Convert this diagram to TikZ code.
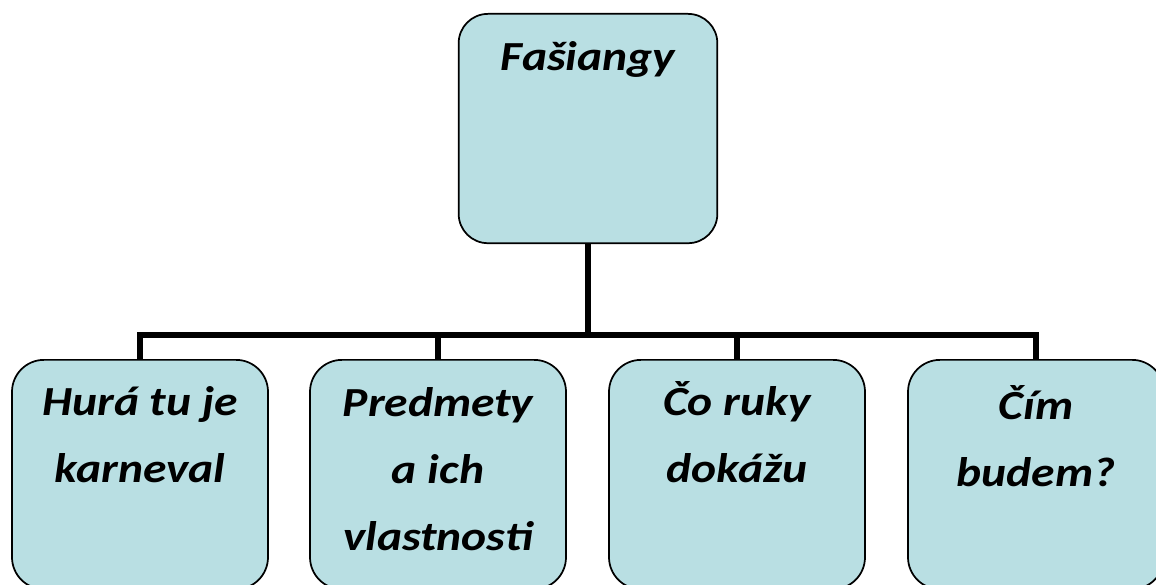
\documentclass[tikz,border=0pt]{standalone}
\usepackage{fontspec}
\setmainfont{Carlito}[FakeStretch=1.15]
\usetikzlibrary{positioning}
\definecolor{boxfill}{RGB}{185,223,227}

\begin{document}
\begin{tikzpicture}[x=0.75pt,y=0.75pt,yscale=-1,xscale=1,
	topic/.style={draw, line width=1.3pt, fill=boxfill, rounded corners=24pt, minimum width=192pt, minimum height=172pt, anchor=north, inner sep=0pt},
	caption/.style={anchor=base, align=center, inner sep=0pt, font=\fontsize{31}{50}\selectfont\bfseries\itshape},
	link/.style={line width=4.5pt}]
	\useasboundingbox (0,0) rectangle (1156,585);
	\clip (0,0) rectangle (1156,585);
	\node [topic, minimum width=194pt, rounded corners=22pt] (fasiangy) at (588,13) {};
	\node [topic] (hura) at (140,359) {};
	\node [topic] (predmety) at (438,359) {};
	\node [topic] (ruky) at (737,359) {};
	\node [topic] (budem) at (1036,359) {};
	\coordinate (bus) at (588,335);
	\draw [link] (fasiangy.south) -- (bus);
	\foreach \b in {hura,predmety,ruky,budem}
		\draw [link] (bus) -| (\b.north);
	\node [caption] (tfasiangy) at (588,70) {Fašiangy};
	\node [caption] (thura) at (140,482) {Hurá tu je\\karneval};
	\node [caption] (tpredmety) at (438,550) {Predmety\\a ich\\vlastnosti};
	\node [caption] (truky) at (737,482) {Čo ruky\\dokážu};
	\node [caption] (tbudem) at (1036,486) {Čím\\budem?};
\end{tikzpicture}
\end{document}
